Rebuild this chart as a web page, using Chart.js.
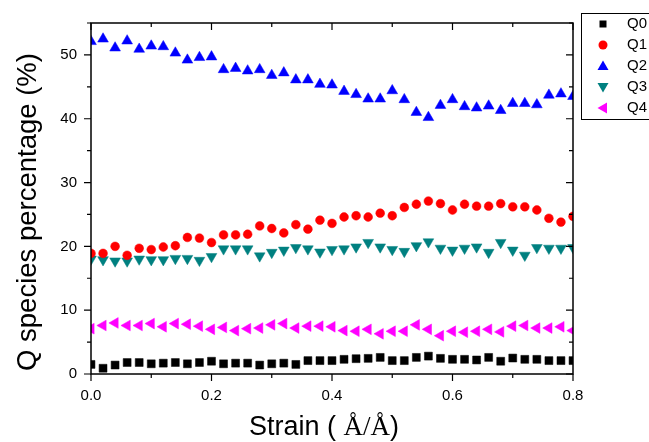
<!DOCTYPE html>
<html>
<head>
<meta charset="utf-8">
<script src="https://cdn.jsdelivr.net/npm/chart.js@4"></script>
<style>
  html, body { margin: 0; padding: 0; background: #fff; }
  #wrap { width: 649px; height: 442px; }
</style>
</head>
<body>
<div id="wrap"><canvas id="chart" width="649" height="442"></canvas></div>
<script>
const strain = [0.00, 0.02, 0.04, 0.06, 0.08, 0.10, 0.12, 0.14, 0.16, 0.18,
                0.20, 0.22, 0.24, 0.26, 0.28, 0.30, 0.32, 0.34, 0.36, 0.38,
                0.40, 0.42, 0.44, 0.46, 0.48, 0.50, 0.52, 0.54, 0.56, 0.58,
                0.60, 0.62, 0.64, 0.66, 0.68, 0.70, 0.72, 0.74, 0.76, 0.78, 0.80];

const q0 = [1.5, 0.9, 1.4, 1.8, 1.8, 1.6, 1.7, 1.8, 1.6, 1.8,
            2.0, 1.6, 1.7, 1.7, 1.4, 1.6, 1.7, 1.5, 2.1, 2.1,
            2.1, 2.3, 2.4, 2.45, 2.6, 2.1, 2.1, 2.6, 2.8, 2.45,
            2.3, 2.3, 2.2, 2.6, 2.0, 2.5, 2.3, 2.3, 2.1, 2.1, 2.1];
const q1 = [18.9, 18.9, 20.0, 18.6, 19.7, 19.5, 19.9, 20.1, 21.4, 21.3,
            20.6, 21.8, 21.8, 21.9, 23.2, 22.8, 22.1, 23.4, 22.7, 24.1,
            23.6, 24.6, 24.8, 24.6, 25.2, 24.8, 26.1, 26.6, 27.1, 26.7,
            25.7, 26.6, 26.3, 26.3, 26.7, 26.2, 26.2, 25.7, 24.4, 23.8, 24.7];
const q2 = [52.1, 52.5, 51.1, 52.2, 50.9, 51.4, 51.3, 50.3, 49.2, 49.6,
            49.7, 47.7, 47.9, 47.5, 47.7, 46.8, 47.2, 46.1, 46.1, 45.4,
            45.3, 44.3, 43.8, 43.1, 43.1, 44.4, 43.0, 41.0, 40.2, 42.1,
            43.0, 41.9, 41.7, 42.0, 41.3, 42.4, 42.4, 42.2, 43.7, 43.9, 43.5];
const q3 = [18.0, 17.9, 17.7, 17.7, 18.0, 17.9, 17.9, 18.1, 18.1, 17.8,
            18.4, 19.6, 19.6, 19.6, 18.5, 19.05, 19.4, 19.8, 19.6, 19.1,
            19.5, 19.6, 19.9, 20.6, 19.9, 19.5, 19.2, 20.1, 20.7, 19.7,
            19.4, 19.7, 19.9, 19.05, 20.6, 19.4, 18.6, 19.8, 19.7, 19.7, 19.8];
const q4 = [7.1, 7.6, 8.0, 7.6, 7.6, 7.9, 7.4, 7.9, 7.8, 7.5,
            7.0, 7.3, 6.8, 7.1, 7.2, 7.7, 7.9, 7.2, 7.5, 7.5,
            7.4, 6.8, 6.7, 7.0, 6.3, 6.7, 6.7, 7.7, 7.0, 6.0,
            6.7, 6.55, 6.7, 7.0, 6.6, 7.5, 7.6, 7.2, 7.2, 7.4, 6.8];

const seriesNames = ['Q0', 'Q1', 'Q2', 'Q3', 'Q4'];
const xTicks = [0, 0.2, 0.4, 0.6, 0.8];
const yTicks = [0, 10, 20, 30, 40, 50];

const SANS = '"Liberation Sans", Arial, sans-serif';
const SERIF = '"Liberation Serif", "Times New Roman", serif';

function pts(arr) {
    return arr.map((v, i) => ({ x: strain[i], y: v }));
}

function ds(label, arr, color, style, radius, rotation) {
    return {
        label: label,
        data: pts(arr),
        showLine: false,
        pointStyle: style,
        pointRadius: radius,
        pointHoverRadius: radius,
        pointRotation: rotation,
        pointBackgroundColor: color,
        pointBorderColor: color,
        pointBorderWidth: 0.5,
        backgroundColor: color,
        borderColor: color
    };
}

// frame, ticks, axis titles and legend box
const framePlugin = {
    id: 'frame',
    afterDraw(chart) {
        const { ctx, chartArea: a, scales: { x, y } } = chart;
        ctx.save();
        ctx.strokeStyle = '#000';
        ctx.lineWidth = 1.5;
        ctx.strokeRect(a.left, a.top, a.right - a.left, a.bottom - a.top);

        ctx.lineWidth = 1.2;
        ctx.beginPath();
        for (let v = 0; v <= 0.8001; v += 0.1) {
            const px = x.getPixelForValue(v);
            const major = Math.round(v * 10) % 2 === 0;
            const len = major ? 7 : 4;
            ctx.moveTo(px, a.bottom); ctx.lineTo(px, a.bottom + len);
            ctx.moveTo(px, a.top); ctx.lineTo(px, a.top + len);
        }
        for (let v = 0; v <= 55; v += 5) {
            const py = y.getPixelForValue(v);
            const len = v % 10 === 0 ? 7 : 4;
            ctx.moveTo(a.left, py); ctx.lineTo(a.left - len, py);
            ctx.moveTo(a.right, py); ctx.lineTo(a.right - len, py);
        }
        ctx.stroke();

        // y title
        ctx.fillStyle = '#000';
        ctx.font = '27.5px ' + SANS;
        ctx.textAlign = 'center';
        ctx.textBaseline = 'middle';
        ctx.save();
        ctx.translate(28, 212);
        ctx.rotate(-Math.PI / 2);
        ctx.fillText('Q species percentage (%)', 0, 0);
        ctx.restore();

        // x title, mixed fonts like the original
        const parts = [['Strain ( ', SANS], ['Å/Å', SERIF], [')', SANS]];
        let w = 0;
        parts.forEach(p => { ctx.font = '27px ' + p[1]; w += ctx.measureText(p[0]).width; });
        let cx = 324 - w / 2;
        ctx.textAlign = 'left';
        parts.forEach(p => {
            ctx.font = '27px ' + p[1];
            ctx.fillText(p[0], cx, 428);
            cx += ctx.measureText(p[0]).width;
        });

        // legend
        ctx.lineWidth = 1;
        ctx.strokeRect(581.5, 13.5, 100, 106);
        ctx.font = '15px ' + SANS;
        ctx.textBaseline = 'middle';
        const colors = ['#000000', '#ff0000', '#0000ff', '#008080', '#ff00ff'];
        seriesNames.forEach((name, i) => {
            const ly = 24 + i * 21;
            const lx = 603;
            ctx.fillStyle = colors[i];
            ctx.beginPath();
            if (i === 0) {
                ctx.rect(lx - 3.5, ly - 3.5, 7, 7);
            } else if (i === 1) {
                ctx.arc(lx, ly, 4.5, 0, Math.PI * 2);
            } else if (i === 2) {
                ctx.moveTo(lx, ly - 5.5); ctx.lineTo(lx + 5.5, ly + 4); ctx.lineTo(lx - 5.5, ly + 4);
            } else if (i === 3) {
                ctx.moveTo(lx, ly + 5.5); ctx.lineTo(lx + 5.5, ly - 4); ctx.lineTo(lx - 5.5, ly - 4);
            } else {
                ctx.moveTo(lx - 5.5, ly); ctx.lineTo(lx + 4, ly - 5.5); ctx.lineTo(lx + 4, ly + 5.5);
            }
            ctx.closePath();
            ctx.fill();
            ctx.fillStyle = '#000';
            ctx.fillText(name, 627, ly);
        });
        ctx.restore();
    }
};

new Chart(document.getElementById('chart'), {
    type: 'scatter',
    data: {
        datasets: [
            ds('Q0', q0, '#000000', 'rect', 5.6, 0),
            ds('Q1', q1, '#ff0000', 'circle', 4.4, 0),
            ds('Q2', q2, '#0000ff', 'triangle', 6.2, 0),
            ds('Q3', q3, '#008080', 'triangle', 6.2, 180),
            ds('Q4', q4, '#ff00ff', 'triangle', 6.2, 270)
        ]
    },
    options: {
        responsive: false,
        animation: false,
        devicePixelRatio: 1,
        layout: { padding: { top: 14, right: 76, left: 0, bottom: 0 } },
        plugins: {
            legend: { display: false },
            tooltip: { enabled: false }
        },
        scales: {
            x: {
                type: 'linear',
                min: 0,
                max: 0.8,
                afterFit(scale) { scale.height = 68; },
                afterBuildTicks(scale) { scale.ticks = xTicks.map(v => ({ value: v })); },
                grid: { display: false, drawTicks: false },
                border: { display: false },
                ticks: {
                    padding: 13,
                    color: '#000',
                    font: { family: SANS, size: 15 },
                    callback: v => v.toFixed(1)
                }
            },
            y: {
                min: 0,
                max: 55,
                afterFit(scale) { scale.width = 91; },
                afterBuildTicks(scale) { scale.ticks = yTicks.map(v => ({ value: v })); },
                grid: { display: false, drawTicks: false },
                border: { display: false },
                ticks: {
                    padding: 14,
                    color: '#000',
                    font: { family: SANS, size: 15 },
                    callback: v => String(v)
                }
            }
        }
    },
    plugins: [framePlugin]
});
</script>
</body>
</html>
